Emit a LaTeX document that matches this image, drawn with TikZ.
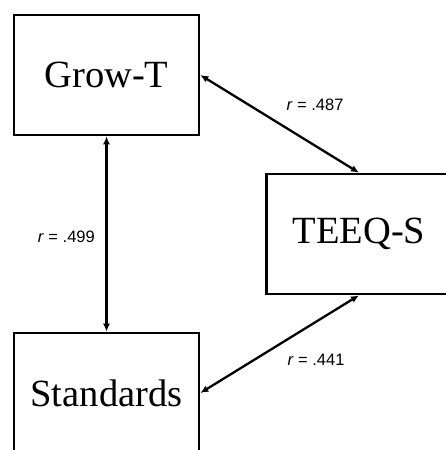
\documentclass[tikz,border=0pt]{standalone}
\usepackage{fontspec}
\setmainfont{Liberation Serif}
\newfontfamily\labfont{Liberation Sans}
\usetikzlibrary{arrows.meta}
\begin{document}
\begin{tikzpicture}[x=1pt,y=-1pt,
  box/.style={draw,line width=2.6pt,minimum width=185pt,minimum height=120pt,inner sep=0pt,font=\fontsize{38.5}{40}\selectfont},
  link/.style={line width=2.3pt,{Latex[length=8pt,width=7pt]}-{Latex[length=8pt,width=7pt]}},
  lab/.style={font=\labfont\fontsize{16.5}{18}\selectfont,inner sep=0pt}]
\useasboundingbox (0,0) rectangle (446,450);
\clip (0,0) rectangle (446,450);
\node[box] (g) at (106.5,75) {Grow-T};
\node[box] (t) at (359,234) {TEEQ-S};
\node[box] (s) at (106.5,393) {Standards};
\draw[link] (g.south) -- (s.north);
\draw[link] (g.east) -- (t.north);
\draw[link] (t.south) -- (s.east);
\node[lab] (l1) at (315,105) {\textit{r} = .487};
\node[lab,anchor=east] (l2) at (95,237) {\textit{r} = .499};
\node[lab] (l3) at (316,360) {\textit{r} = .441};
\end{tikzpicture}
\end{document}
